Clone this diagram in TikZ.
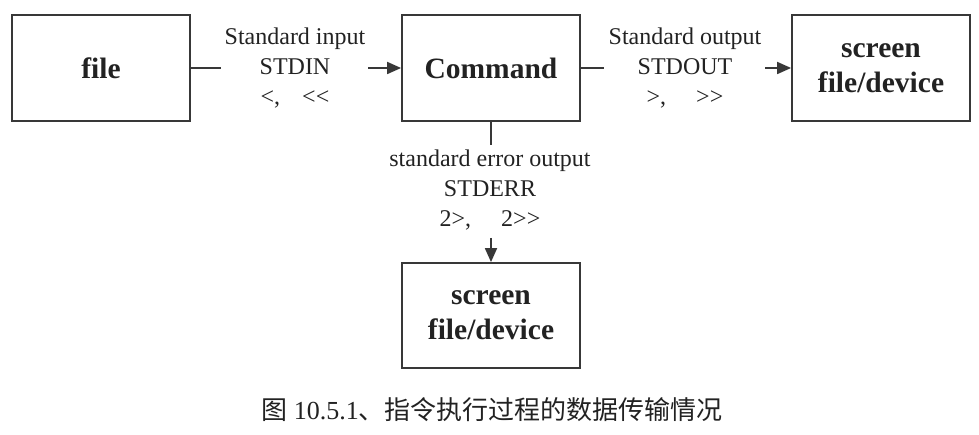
\documentclass[tikz,border=0pt]{standalone}
\usepackage{fontspec}
\setmainfont{Liberation Serif}
\newfontfamily\cjk{Noto Sans CJK SC}
\usetikzlibrary{arrows.meta}
\definecolor{ink}{HTML}{222222}
\definecolor{lineink}{HTML}{383838}
\tikzset{
  box/.style={draw=lineink, line width=1.8pt, minimum width=178pt, minimum height=106pt,
    inner sep=0pt, align=center, text=ink, font=\fontsize{29.5}{35}\selectfont\bfseries},
  lbl/.style={align=center, text=ink, inner sep=0pt, font=\fontsize{24}{30}\selectfont},
  conn/.style={draw=lineink, line width=1.8pt},
  arr/.style={conn, -{Triangle[length=14pt,width=12pt]}}
}
\begin{document}
\begin{tikzpicture}[x=1pt,y=-1pt]
\useasboundingbox (0,0) rectangle (979,435);
\node[box] (file) at (101,68) {file};
\node[box] (cmd) at (491,68) {Command};
\node[box] (out) at (881,68) {screen\\file/device};
\node[box, minimum height=105pt] (err) at (491,315.5) {screen\\file/device};

\node[lbl] (inl) at (295,68) {Standard input\\STDIN\\<,\hspace{22pt}{<}{<}};
\node[lbl] (outl) at (685,68) {Standard output\\STDOUT\\>,\hspace{30pt}{>}{>}};
\node[lbl] (errl) at (490,190) {standard error output\\STDERR\\2>,\hspace{30pt}2{>}{>}};

\coordinate (a1) at (221,68);
\coordinate (a2) at (368,68);
\coordinate (b1) at (604,68);
\coordinate (b2) at (765,68);
\coordinate (c1) at (491,145);
\coordinate (c2) at (491,238);

\draw[conn] (file.east) -- (a1);
\draw[arr] (a2) -- (cmd.west);
\draw[conn] (cmd.east) -- (b1);
\draw[arr] (b2) -- (out.west);
\draw[conn] (cmd.south) -- (c1);
\draw[arr] (c2) -- (err.north);

\node[text=ink, inner sep=0pt, font=\fontsize{26}{30}\selectfont] (cap) at (492,410)
  {{\cjk 图} 10.5.1{\cjk 、指令执行过程的数据传输情况}};
\end{tikzpicture}
\end{document}
